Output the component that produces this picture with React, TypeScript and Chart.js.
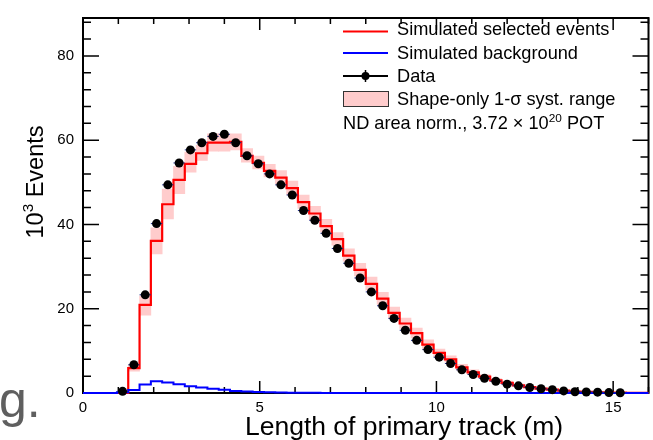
import { useEffect, useRef } from "react";
import { Chart, registerables } from "chart.js";

Chart.register(...registerables);

// ---- Data (values in 10^3 events) ----
const BIN_START = 0;
const BIN_WIDTH = 0.32;
const X_MIN = 0;
const X_MAX = 16;
const Y_MIN = 0;
const Y_MAX = 89;
const xTickValues = [0, 5, 10, 15];
const yTickValues = [0, 20, 40, 60, 80];

const selectedEvents = [
  0, 0, 0, 0, 5.9, 20.9, 36.1, 44.8, 50.6, 54.4,
  56.9, 59.4, 59.4, 59.6, 56.3, 54.6, 52.7, 51.1, 48.6, 45.3,
  42.6, 39.6, 36.5, 32.6, 29.2, 25.9, 22.4, 19.0, 16.5, 14.2,
  11.5, 9.5, 8.0, 6.1, 4.9, 3.9, 3.0, 2.4, 1.8, 1.4,
  1.05, 0.8, 0.55, 0.35, 0.25, 0.18, 0.12, 0.08, 0.05, 0.03,
];

const backgroundEvents = [
  0, 0, 0, 0.2, 0.7, 2.0, 2.8, 2.5, 2.1, 1.6,
  1.3, 1.0, 0.75, 0.5, 0.35, 0.25, 0.18, 0.12, 0.08, 0.05,
  0.03, 0.02, 0.01, 0, 0, 0, 0, 0, 0, 0,
  0, 0, 0, 0, 0, 0, 0, 0, 0, 0,
  0, 0, 0, 0, 0, 0, 0, 0, 0, 0,
];

const systLow = [
  0, 0, 0, 0, 5.2, 18.5, 33.0, 41.3, 47.3, 52.4,
  55.2, 57.4, 57.4, 57.7, 54.8, 53.2, 51.3, 49.6, 47.1, 43.8,
  41.1, 38.2, 35.1, 31.3, 27.8, 24.4, 21.0, 17.8, 15.3, 13.1,
  10.6, 8.7, 7.3, 5.5, 4.4, 3.5, 2.7, 2.1, 1.6, 1.2,
  0.9, 0.7, 0.45, 0.3, 0.2, 0.14, 0.09, 0.06, 0.04, 0.02,
];

const systHigh = [
  0, 0, 0, 0, 6.6, 23.0, 39.2, 48.4, 53.8, 57.2,
  58.8, 61.5, 61.5, 61.5, 58.0, 56.2, 54.3, 52.8, 50.3, 47.0,
  44.3, 41.2, 38.1, 34.2, 30.8, 27.5, 23.9, 20.4, 17.8, 15.4,
  12.6, 10.4, 8.8, 6.8, 5.5, 4.4, 3.4, 2.8, 2.1, 1.6,
  1.2, 0.95, 0.65, 0.42, 0.3, 0.22, 0.15, 0.1, 0.06, 0.04,
];

const dataEvents: (number | null)[] = [
  null, null, null, 0.4, 6.7, 23.3, 40.2, 49.4, 54.6, 57.7,
  59.4, 60.9, 61.4, 59.4, 56.3, 54.4, 52.0, 49.4, 47.0, 43.3,
  41.0, 37.9, 34.3, 30.8, 27.3, 24.0, 20.7, 17.7, 14.9, 12.5,
  10.3, 8.5, 7.0, 5.5, 4.4, 3.5, 2.8, 2.1, 1.7, 1.3,
  1.0, 0.8, 0.5, 0.3, 0.25, 0.2, 0.1, 0.05, null, null,
];

const FONT = "'Liberation Sans', Arial, Helvetica, sans-serif";

function stepPoints(vals: number[]) {
  // points at left bin edges (+ closing right edge); value of bin i spans [edge_i, edge_i+1]
  const pts = vals.map((v, i) => ({ x: BIN_START + i * BIN_WIDTH, y: v }));
  pts.push({ x: BIN_START + vals.length * BIN_WIDTH, y: vals[vals.length - 1] });
  return pts;
}

const rootPlugin = {
  id: "rootStyle",
  beforeDatasetsDraw(chart: any) {
    const { ctx, chartArea: a, scales } = chart;
    const xs = scales.x;
    const ys = scales.y;
    ctx.save();
    ctx.strokeStyle = "#000";
    ctx.lineWidth = 1.5;
    const xMajLen = 12, xMinLen = 6, yMajLen = 16, yMinLen = 8;
    ctx.beginPath();
    for (let v = X_MIN; v <= X_MAX + 1e-9; v += 1) {
      const px = xs.getPixelForValue(v);
      const len = xTickValues.includes(v) ? xMajLen : xMinLen;
      ctx.moveTo(px, a.bottom);
      ctx.lineTo(px, a.bottom - len);
      ctx.moveTo(px, a.top);
      ctx.lineTo(px, a.top + len);
    }
    for (let v = Y_MIN; v <= Y_MAX + 1e-9; v += 4) {
      const py = ys.getPixelForValue(v);
      const len = yTickValues.includes(v) ? yMajLen : yMinLen;
      ctx.moveTo(a.left, py);
      ctx.lineTo(a.left + len, py);
      ctx.moveTo(a.right, py);
      ctx.lineTo(a.right - len, py);
    }
    ctx.stroke();
    ctx.lineWidth = 2;
    ctx.strokeRect(a.left, a.top, a.right - a.left, a.bottom - a.top);
    ctx.restore();
  },
  beforeDatasetDraw(chart: any, args: any) {
    if (args.index !== 0) return;
    const { ctx, scales } = chart;
    ctx.save();
    ctx.strokeStyle = "#1c2a8a";
    ctx.lineWidth = 1;
    ctx.beginPath();
    dataEvents.forEach((v, i) => {
      if (v === null) return;
      const x0 = scales.x.getPixelForValue(BIN_START + i * BIN_WIDTH);
      const x1 = scales.x.getPixelForValue(BIN_START + (i + 1) * BIN_WIDTH);
      const y = scales.y.getPixelForValue(v);
      ctx.moveTo(x0, y);
      ctx.lineTo(x1, y);
    });
    ctx.stroke();
    ctx.restore();
  },
  afterDraw(chart: any) {
    const { ctx } = chart;
    ctx.save();
    ctx.fillStyle = "#000";
    ctx.textBaseline = "alphabetic";

    // Legend
    const lf = 18.2;
    ctx.font = `${lf}px ${FONT}`;
    const lx0 = 343, lx1 = 388, tx = 397;
    ctx.lineWidth = 2;
    ctx.strokeStyle = "#ff0000";
    ctx.beginPath(); ctx.moveTo(lx0, 31.5); ctx.lineTo(lx1, 31.5); ctx.stroke();
    ctx.fillText("Simulated selected events", tx, 35);
    ctx.strokeStyle = "#0000ff";
    ctx.beginPath(); ctx.moveTo(lx0, 53); ctx.lineTo(lx1, 53); ctx.stroke();
    ctx.fillText("Simulated background", tx, 58.5);
    ctx.strokeStyle = "#000";
    ctx.beginPath(); ctx.moveTo(lx0, 76); ctx.lineTo(lx1, 76); ctx.stroke();
    ctx.lineWidth = 1.5;
    ctx.beginPath(); ctx.moveTo(365.5, 70); ctx.lineTo(365.5, 82); ctx.stroke();
    ctx.beginPath(); ctx.arc(365.5, 76, 4, 0, Math.PI * 2); ctx.fill();
    ctx.fillText("Data", tx, 82);
    ctx.fillStyle = "#ffcccc";
    ctx.fillRect(lx0, 91, lx1 - lx0, 15);
    ctx.strokeStyle = "#333";
    ctx.lineWidth = 1;
    ctx.strokeRect(lx0 + 0.5, 91.5, lx1 - lx0, 15);
    ctx.fillStyle = "#000";
    ctx.fillText("Shape-only 1-\u03c3 syst. range", tx, 105);
    let x = 343;
    const base = 128.5;
    const s1 = "ND area norm., 3.72 \u00d7 10";
    ctx.fillText(s1, x, base);
    x += ctx.measureText(s1).width;
    ctx.font = `${lf * 0.65}px ${FONT}`;
    ctx.fillText("20", x, base - 7);
    x += ctx.measureText("20").width;
    ctx.font = `${lf}px ${FONT}`;
    ctx.fillText(" POT", x, base);

    // X title
    ctx.font = `26.5px ${FONT}`;
    ctx.textAlign = "center";
    ctx.fillText("Length of primary track (m)", 404, 435);

    // Y title (rotated)
    ctx.save();
    ctx.translate(43, 182);
    ctx.rotate(-Math.PI / 2);
    ctx.textAlign = "left";
    const yf = 23.5;
    ctx.font = `${yf}px ${FONT}`;
    const w1 = ctx.measureText("10").width;
    const w3 = ctx.measureText(" Events").width;
    ctx.font = `${yf * 0.65}px ${FONT}`;
    const w2 = ctx.measureText("3").width;
    const start = -(w1 + w2 + w3) / 2;
    ctx.font = `${yf}px ${FONT}`;
    ctx.fillText("10", start, 0);
    ctx.font = `${yf * 0.65}px ${FONT}`;
    ctx.fillText("3", start + w1, -10);
    ctx.font = `${yf}px ${FONT}`;
    ctx.fillText(" Events", start + w1 + w2, 0);
    ctx.restore();

    // stray cropped text at bottom-left
    ctx.textAlign = "left";
    ctx.fillStyle = "#5f5f5f";
    ctx.font = `50px ${FONT}`;
    ctx.fillText("g.", -1, 417);

    ctx.restore();
  },
};

export default function App() {
  const ref = useRef<HTMLCanvasElement | null>(null);
  useEffect(() => {
    if (!ref.current) return;
    const centers = selectedEvents.map((_, i) => BIN_START + (i + 0.5) * BIN_WIDTH);
    const chart = new Chart(ref.current, {
      type: "line",
      data: {
        datasets: [
          {
            type: "line",
            label: "Data",
            data: dataEvents
              .map((v, i) => (v === null ? null : { x: centers[i], y: v }))
              .filter((p) => p !== null) as any,
            showLine: false,
            pointRadius: 4.5,
            pointBackgroundColor: "#000",
            pointBorderWidth: 0,
            pointStyle: "circle",
            clip: false as any,
          },
          {
            type: "line",
            label: "Simulated background",
            data: stepPoints(backgroundEvents) as any,
            stepped: "before",
            borderColor: "#0000ff",
            borderWidth: 2,
            pointRadius: 0,
            fill: false,
            clip: false as any,
          },
          {
            type: "line",
            label: "Simulated selected events",
            data: stepPoints(selectedEvents) as any,
            stepped: "before",
            borderColor: "#ff0000",
            borderWidth: 2.2,
            pointRadius: 0,
            fill: false,
            clip: false as any,
          },
          {
            type: "bar",
            label: "Shape-only 1-\u03c3 syst. range",
            data: centers.map((c, i) => ({ x: c, y: [systLow[i], systHigh[i]] })) as any,
            backgroundColor: "#ffcccc",
            borderWidth: 0,
            barPercentage: 1,
            categoryPercentage: 1,
            grouped: false,
          } as any,
        ],
      },
      options: {
        animation: false,
        responsive: false,
        devicePixelRatio: 1,
        events: [],
        layout: { padding: { top: 7, right: 2, left: 0, bottom: 0 } },
        plugins: { legend: { display: false }, tooltip: { enabled: false }, title: { display: false } },
        scales: {
          x: {
            type: "linear",
            min: X_MIN,
            max: X_MAX,
            offset: false,
            grid: { display: false, drawTicks: false },
            border: { display: false },
            afterBuildTicks: (s: any) => {
              s.ticks = xTickValues.map((v) => ({ value: v }));
            },
            afterFit: (s: any) => {
              s.height = 47;
            },
            ticks: {
              autoSkip: false,
              maxRotation: 0,
              padding: 6,
              color: "#000",
              font: { family: FONT, size: 15 },
              callback: (v: any) => String(v),
            },
          },
          y: {
            type: "linear",
            min: Y_MIN,
            max: Y_MAX,
            grid: { display: false, drawTicks: false },
            border: { display: false },
            afterBuildTicks: (s: any) => {
              s.ticks = yTickValues.map((v) => ({ value: v }));
            },
            afterFit: (s: any) => {
              s.width = 83;
            },
            ticks: {
              padding: 9,
              color: "#000",
              font: { family: FONT, size: 15 },
              callback: (v: any) => String(v),
            },
          },
        },
      },
      plugins: [rootPlugin],
    });
    return () => chart.destroy();
  }, []);
  return (
    <div style={{ position: "fixed", left: 0, top: 0, width: 653, height: 440, background: "#fff" }}>
      <canvas ref={ref} width={653} height={440} style={{ display: "block", width: 653, height: 440 }} />
    </div>
  );
}
